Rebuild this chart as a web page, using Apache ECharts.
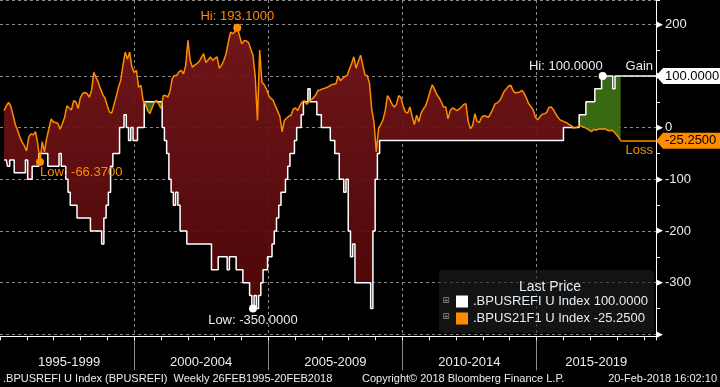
<!DOCTYPE html>
<html><head><meta charset="utf-8">
<script src="https://cdn.jsdelivr.net/npm/echarts@6/dist/echarts.min.js"></script>
<style>html,body{margin:0;padding:0;background:#000;}#c{width:720px;height:387px;}</style>
</head><body><div id="c"></div>
<script>
// ---- data (monthly samples, 26 Feb 1995 .. 20 Feb 2018) ----
const START = 1995 + 56/365;   // 26FEB1995
const END = 2018 + 50/365;     // 20FEB2018
const SERIES_W = '.BPUSREFI U Index';
const SERIES_O = '.BPUS21F1 U Index';
const WHITE = [
-62.5,-62.5,-75,-62.5,-62.5,-87.5,-87.5,-87.5,-87.5,-87.5,-62.5,-100,
-100,-75,-75,-75,-50,-50,-50,-50,-75,-75,-75,-75,
-75,-50,-75,-75,-100,-125,-150,-150,-150,-175,-175,-175,
-175,-175,-175,-200,-200,-200,-200,-200,-225,-175,-150,-125,
-75,-50,-50,-50,0,0,25,0,-25,0,-25,-25,
0,0,0,50,50,50,50,50,50,50,50,0,
-25,-50,-100,-125,-150,-125,-150,-200,-200,-200,-225,-225,
-225,-225,-225,-225,-225,-225,-225,-225,-225,-275,-275,-275,
-250,-250,-250,-250,-275,-250,-250,-250,-275,-275,-275,-300,
-300,-300,-325,-350,-325,-350,-325,-300,-275,-275,-250,-250,
-225,-200,-175,-150,-125,-125,-100,-75,-50,-50,-25,0,
0,25,50,50,75,50,50,50,25,25,0,0,
0,0,-25,-25,-50,-50,-100,-100,-125,-100,-200,-250,
-225,-300,-300,-300,-300,-300,-300,-300,-350,-200,-100,-50,
-25,-25,-25,-25,-25,-25,-25,-25,-25,-25,-25,-25,
-25,-25,-25,-25,-25,-25,-25,-25,-25,-25,-25,-25,
-25,-25,-25,-25,-25,-25,-25,-25,-25,-25,-25,-25,
-25,-25,-25,-25,-25,-25,-25,-25,-25,-25,-25,-25,
-25,-25,-25,-25,-25,-25,-25,-25,-25,-25,-25,-25,
-25,-25,-25,-25,-25,-25,-25,-25,-25,-25,-25,-25,
-25,-25,-25,-25,-25,-25,-25,-25,-25,-25,0,0,
0,0,0,0,0,25,25,25,50,50,50,50,
75,75,75,100,100,100,100,100,75,100,100,100
];
const ORANGE = [
33,42,49,41,24,6,-5,-18,-28,-35,-45,-18,
-12,-14,-8,-31,-66.37,-27,-47,-20,-2,17,11,10,
8,-3,8,20,42,38,34,52,50,37,58,66,
68,66,59,72,107,97,88,75,64,57,43,30,
28,44,60,78,91,120,146,133,146,117,107,111,
78,82,53,46,33,27,38,49,53,45,37,62,
62,59,70,95,101,101,108,111,104,120,169,130,
117,121,124,128,136,143,126,131,137,130,134,137,
115,121,130,143,165,185,182,186,193.1,178,162,168,
168,165,152,140,100,14,150,88,83,75,62,56,
53,42,32,22,-8,14,18,22,24,36,38,33,
43,50,52,45,50,54,58,63,72,73,75,76,
78,80,83,84,85,100,91,95,99,101,113,124,
137,115,128,140,121,101,101,85,35,10,-47,-2,
6,15,33,62,55,46,40,45,62,58,42,30,
28,40,22,6,24,11,28,36,42,55,70,83,
74,64,58,50,40,40,17,33,38,36,33,36,
40,45,46,12,-2,4,27,12,10,20,23,22,
20,27,36,46,48,52,60,70,75,80,82,72,
67,68,69,72,66,57,46,41,34,20,15,21,
26,27,29,39,40,35,27,20,15,13,11,9,
6,4,-1,0,2,4,2,0,-2,-5,-8,-3,
-5,-3,-2,-3,-2,-5,-6,-5,-8,-13,-18,-25.25
];
const PERIODS = ['1995-1999','2000-2004','2005-2009','2010-2014','2015-2019'];
const PERIOD_STARTS = [1995,2000,2005,2010,2015];
const Y_TICKS = [-400,-300,-200,-100,0,100,200];

// ---- axis extents ----
const X_MIN = 1995, X_MAX = 2019.456, Y_MIN = -400, Y_MAX = 247;
const FONT = '"Liberation Sans", Arial, sans-serif';
const TXT = '#e6edf3', ORG = '#ff8c00';

const N = WHITE.length;
const XS = WHITE.map((_, k) => START + k * (END - START) / (N - 1));
const pair = arr => arr.map((v, k) => [XS[k], v]);
const centers = PERIOD_STARTS.map(s => (Math.max(s, START) + Math.min(s + 5, X_MAX)) / 2);
const f4 = v => v.toFixed(4);

const wMaxI = WHITE.indexOf(Math.max(...WHITE));
const wMinI = WHITE.indexOf(Math.min(...WHITE));
const oMaxI = ORANGE.indexOf(Math.max(...ORANGE));
const oMinI = ORANGE.indexOf(Math.min(...ORANGE));
const wLast = WHITE[N - 1], oLast = ORANGE[N - 1];

const chart = echarts.init(document.getElementById('c'));
const labelStyle = {fontFamily: FONT, fontSize: 13};
const dash = {color: '#8a8a8a', width: 1, type: [3, 3]};
const redFill = new echarts.graphic.LinearGradient(0, 0, 0, 1, [{offset: 0, color: '#78181c'}, {offset: 1, color: '#520708'}]);

// band between the stepped white series and the linear orange series:
// red where orange is above white, green where white is above orange
function renderBand(params, api) {
  const pts = []; // [x, white, orange] along the drawn paths
  for (let k = 0; k < N; k++) {
    pts.push([XS[k], WHITE[k], ORANGE[k]]);
    if (k < N - 1) {
      const xm = (XS[k] + XS[k + 1]) / 2, om = (ORANGE[k] + ORANGE[k + 1]) / 2;
      pts.push([xm, WHITE[k], om]);
      pts.push([xm, WHITE[k + 1], om]);
    }
  }
  const red = [], redBack = [], green = [], greenBack = [];
  pts.forEach(([x, w, o]) => {
    red.push(api.coord([x, Math.max(w, o)]));
    redBack.push(api.coord([x, w]));
    green.push(api.coord([x, w]));
    greenBack.push(api.coord([x, Math.min(w, o)]));
  });
  return {type: 'group', children: [
    {type: 'polygon', shape: {points: red.concat(redBack.reverse())}, style: {fill: redFill, opacity: 0.93}},
    {type: 'polygon', shape: {points: green.concat(greenBack.reverse())}, style: {fill: '#3c7014', opacity: 0.95}}
  ]};
}

chart.setOption({
  backgroundColor: '#000',
  animation: false,
  grid: {left: -4.8, right: 64, top: -1, bottom: 52.7},
  xAxis: [
    {type: 'value', min: X_MIN, max: X_MAX, interval: 5, position: 'bottom', offset: 2,
     axisLine: {show: false, onZero: false},
     axisTick: {show: true, length: 34, customValues: [2000, 2005, 2010, 2015], lineStyle: {color: '#8a8a8a'}},
     axisLabel: {customValues: centers, margin: 20, color: TXT, fontFamily: FONT, fontSize: 13,
       formatter: v => { let b = 0, d = 1e9; centers.forEach((c, i) => { if (Math.abs(c - v) < d) { d = Math.abs(c - v); b = i; } }); return PERIODS[b]; }},
     splitLine: {show: true, lineStyle: dash}},
    {type: 'value', min: X_MIN, max: X_MAX, interval: 1, position: 'bottom', offset: 2,
     axisLine: {show: true, onZero: false, lineStyle: {color: '#ffffff', width: 1}},
     axisTick: {show: true, length: 4, lineStyle: {color: '#ffffff'}},
     axisLabel: {show: false}, splitLine: {show: false}}
  ],
  yAxis: [
    {type: 'value', min: Y_MIN, max: Y_MAX, interval: 100, position: 'right',
     axisLine: {show: true, onZero: false, lineStyle: {color: '#ffffff', width: 1}},
     axisTick: {show: false},
     axisLabel: {margin: 0, formatter: v => Y_TICKS.indexOf(v) < 0 ? '' : (v === -400 ? '{t|▶}' : '{t|▶}{v|' + v + '}'),
       rich: {t: {fontFamily: 'DejaVu Sans', fontSize: 9, color: '#ffffff'}, v: {fontFamily: FONT, fontSize: 13, color: TXT, padding: [0, 0, 0, 2]}}},
     splitLine: {show: true, lineStyle: dash}},
    {type: 'value', min: Y_MIN, max: Y_MAX, interval: 50, position: 'right',
     axisLine: {show: false, onZero: false}, axisTick: {show: true, length: 4, lineStyle: {color: '#ffffff'}},
     axisLabel: {show: false}, splitLine: {show: false}}
  ],
  legend: {
    data: [SERIES_W, SERIES_O], orient: 'vertical', left: 439, top: 270, padding: [25, 6, 8, 17],
    itemWidth: 12, itemHeight: 12, itemGap: 4, icon: 'rect', selectedMode: false,
    backgroundColor: 'rgba(30,30,30,0.62)', borderRadius: 4,
    textStyle: {color: TXT, fontSize: 13, fontFamily: FONT},
    formatter: name => name + ' ' + f4(name === SERIES_W ? wLast : oLast)
  },
  series: [
    {name: 'band', type: 'custom', coordinateSystem: 'cartesian2d', silent: true, z: 1,
     data: [[XS[0], 0]], encode: {x: 0, y: 1}, renderItem: renderBand},
    {name: SERIES_W, type: 'line', step: 'middle', data: pair(WHITE), symbol: 'none', z: 3, emphasis: {disabled: true},
     lineStyle: {color: '#ffffff', width: 1.5}, itemStyle: {color: '#ffffff'},
     markPoint: {symbol: 'circle', symbolSize: 8, silent: true, itemStyle: {color: '#ffffff'},
       label: Object.assign({color: TXT}, labelStyle),
       data: [
         {coord: [XS[wMaxI], WHITE[wMaxI]], label: {formatter: 'Hi: ' + f4(WHITE[wMaxI]), position: [4, 1], align: 'right', verticalAlign: 'bottom'}},
         {coord: [XS[wMinI], WHITE[wMinI]], label: {formatter: 'Low: ' + f4(WHITE[wMinI]), position: 'bottom', distance: 1}}
       ]},
     markLine: {symbol: ['none', 'none'], silent: true, lineStyle: {color: '#ffffff', width: 1.5, type: 'solid'},
       label: Object.assign({show: true, position: 'insideEndTop', formatter: 'Gain', color: TXT, distance: 3}, labelStyle),
       data: [[{coord: [XS[N - 1], wLast]}, {coord: [X_MAX, wLast]}]]}},
    {name: SERIES_O, type: 'line', data: pair(ORANGE), symbol: 'none', z: 4, emphasis: {disabled: true},
     lineStyle: {color: ORG, width: 1.5}, itemStyle: {color: ORG},
     markPoint: {symbol: 'circle', symbolSize: 8, silent: true, itemStyle: {color: ORG},
       label: Object.assign({color: ORG}, labelStyle),
       data: [
         {coord: [XS[oMaxI], ORANGE[oMaxI]], label: {formatter: 'Hi: ' + f4(ORANGE[oMaxI]), position: 'top', distance: 1}},
         {coord: [XS[oMinI], ORANGE[oMinI]], label: {formatter: 'Low: ' + f4(ORANGE[oMinI]), position: [4, 8], align: 'left', verticalAlign: 'top'}}
       ]},
     markLine: {symbol: ['none', 'none'], silent: true, lineStyle: {color: ORG, width: 1.5, type: 'solid'},
       label: Object.assign({show: true, position: 'insideEndBottom', formatter: 'Loss', color: ORG, distance: 3}, labelStyle),
       data: [[{coord: [XS[N - 1], oLast]}, {coord: [X_MAX, oLast]}]]}}
  ]
});

// value tags on the right axis, placed through the axis scales
const ax = chart.convertToPixel({xAxisIndex: 0}, X_MAX);
function tag(val, fill) {
  const py = chart.convertToPixel({yAxisIndex: 0}, val);
  return [
    {type: 'polygon', z: 100, shape: {points: [[ax, py], [ax + 7, py - 8], [720, py - 8], [720, py + 8], [ax + 7, py + 8]]}, style: {fill: fill}},
    {type: 'text', z: 101, x: ax + 9, y: py, style: {text: f4(val), fill: '#000', font: '13px ' + FONT, verticalAlign: 'middle'}}
  ];
}
chart.setOption({graphic: [].concat(
  tag(wLast, '#ffffff'), tag(oLast, ORG),
  [
    {type: 'text', z: 100, x: 550, y: 287, style: {text: 'Last Price', fill: TXT, font: '14px ' + FONT, align: 'center', verticalAlign: 'middle'}},
    {type: 'text', z: 100, x: 446, y: 301, style: {text: '⊞', fill: '#8a8a8a', font: '9px "DejaVu Sans"', align: 'center', verticalAlign: 'middle'}},
    {type: 'text', z: 100, x: 446, y: 317, style: {text: '⊞', fill: '#8a8a8a', font: '9px "DejaVu Sans"', align: 'center', verticalAlign: 'middle'}},
    {type: 'text', z: 100, x: 3, y: 379, style: {text: '.BPUSREFI U Index (BPUSREFI)  Weekly 26FEB1995-20FEB2018', fill: TXT, font: '11px ' + FONT, verticalAlign: 'middle'}},
    {type: 'text', z: 100, x: 362, y: 379, style: {text: 'Copyright© 2018 Bloomberg Finance L.P.', fill: TXT, font: '11px ' + FONT, verticalAlign: 'middle'}},
    {type: 'text', z: 100, x: 717, y: 379, style: {text: '20-Feb-2018 16:02:10', fill: TXT, font: '11px ' + FONT, align: 'right', verticalAlign: 'middle'}}
  ])});
</script>
</body></html>
